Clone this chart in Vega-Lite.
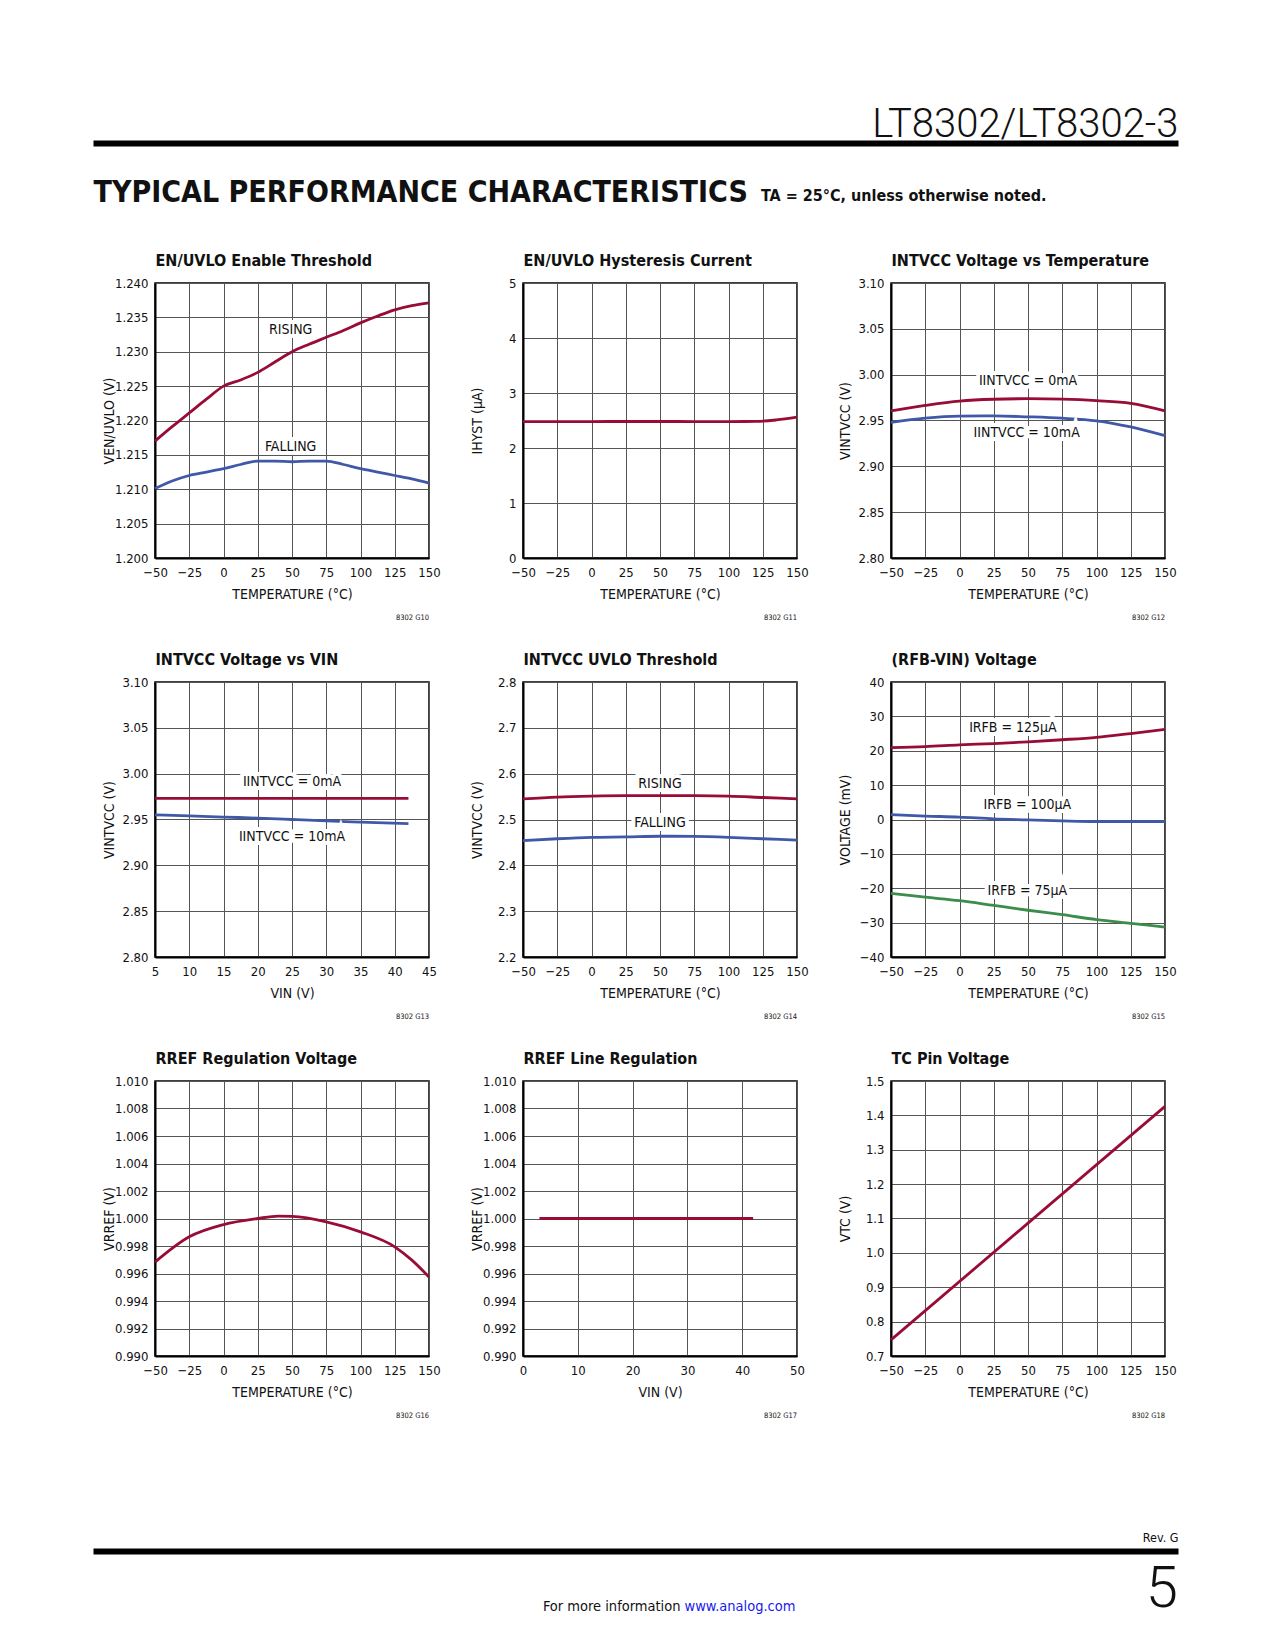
{
  "$schema": "https://vega.github.io/schema/vega-lite/v6.json",
  "background": "white",
  "padding": {"left": 93, "top": 104, "right": 5, "bottom": 5},
  "config": {
    "font": "DejaVu Sans Condensed, DejaVu Sans, sans-serif",
    "view": {"stroke": "black", "strokeWidth": 1.5},
    "axis": {
      "domainColor": "black", "domainWidth": 2,
      "gridColor": "#555555", "gridWidth": 1, "gridOpacity": 1,
      "ticks": false, "tickSize": 0,
      "labelFont": "DejaVu Sans Condensed, DejaVu Sans, sans-serif",
      "labelFontSize": 13, "labelColor": "#111111", "labelPadding": 8,
      "labelOverlap": false, "labelFlush": false, "labelBound": false,
      "titleFont": "DejaVu Sans Condensed, DejaVu Sans, sans-serif",
      "titleFontSize": 14, "titleFontWeight": "normal", "titleColor": "#111111"
    },
    "axisX": {"minExtent": 22, "maxExtent": 22, "titlePadding": 18.5, "titleBaseline": "alphabetic"},
    "axisY": {"minExtent": 33, "maxExtent": 33, "titlePadding": 9, "titleBaseline": "alphabetic", "labelPadding": 7},
    "title": {"font": "DejaVu Sans Condensed, DejaVu Sans, sans-serif", "color": "#111111", "fontWeight": "normal"},
    "text": {"font": "DejaVu Sans Condensed, DejaVu Sans, sans-serif", "fontSize": 14, "color": "#111111"},
    "line": {"strokeWidth": 2.8, "interpolate": "monotone"}
  },
  "spacing": 111,
  "vconcat": [
    {
      "spacing": 44,
      "vconcat": [
        {
          "spacing": 33,
          "vconcat": [
            {
              "width": 1023, "height": 1,
              "view": {"stroke": null},
              "data": {"values": [{"x": 0}]},
              "mark": {"type": "point", "size": 0, "opacity": 0},
              "encoding": {
                "x": {"field": "x", "type": "quantitative", "scale": {"domain": [0, 1], "range": [-62, 1023]},
                  "axis": {"orient": "top", "domain": true, "domainColor": "black", "domainWidth": 6, "domainCap": "butt", "labels": false, "grid": false, "ticks": false,
                    "title": "LT8302/LT8302-3", "titleAnchor": "end", "titleFont": "Roboto", "titleFontWeight": 300, "titleFontSize": 40, "titleBaseline": "alphabetic", "titlePadding": 7, "minExtent": 0, "maxExtent": 0}}
              }
            },
            {
              "width": 1023, "height": 1,
              "view": {"stroke": null},
              "data": {"values": [{"x": 0}]},
              "mark": {"type": "point", "size": 0, "opacity": 0},
              "encoding": {
                "x": {"field": "x", "type": "quantitative", "scale": {"domain": [0, 1], "range": [-62, 1023]},
                  "axis": {"orient": "top", "domain": false, "labels": false, "grid": false, "ticks": false,
                    "title": "TYPICAL PERFORMANCE CHARACTERISTICS", "titleAnchor": "start", "titleFontWeight": "bold", "titleFontSize": 30, "titleBaseline": "alphabetic", "titlePadding": 0, "minExtent": 0, "maxExtent": 0}}
              },
              "title": {"text": "TA = 25°C, unless otherwise noted.", "orient": "bottom", "anchor": "start", "frame": "group", "baseline": "alphabetic", "offset": -6, "dx": 606, "fontSize": 16, "fontWeight": "bold"}
            }
          ]
        },
        {
          "columns": 3,
          "bounds": "flush",
          "spacing": {"row": 124, "column": 94},
          "resolve": {"scale": {"color": "independent"}},
          "concat": [
            {
              "width": 274, "height": 275,
              "title": {"text": "8302 G10", "orient": "bottom", "anchor": "end", "frame": "group", "fontSize": 7.5, "offset": 12},
              "resolve": {"axis": {"x": "independent"}},
              "layer": [
                {
                  "data": {"values": [
                    {"s": "RISING", "x": -50, "y": 1.2170}, {"s": "RISING", "x": -37.5, "y": 1.2191}, {"s": "RISING", "x": -25, "y": 1.2211}, {"s": "RISING", "x": -12.5, "y": 1.2231},
                    {"s": "RISING", "x": 0, "y": 1.2250}, {"s": "RISING", "x": 12.5, "y": 1.2259}, {"s": "RISING", "x": 25, "y": 1.2270}, {"s": "RISING", "x": 37.5, "y": 1.2285},
                    {"s": "RISING", "x": 50, "y": 1.2300}, {"s": "RISING", "x": 62.5, "y": 1.2311}, {"s": "RISING", "x": 75, "y": 1.2321}, {"s": "RISING", "x": 87.5, "y": 1.2331},
                    {"s": "RISING", "x": 100, "y": 1.2342}, {"s": "RISING", "x": 112.5, "y": 1.2352}, {"s": "RISING", "x": 125, "y": 1.2361}, {"s": "RISING", "x": 137.5, "y": 1.2367},
                    {"s": "RISING", "x": 150, "y": 1.2371},
                    {"s": "FALLING", "x": -50, "y": 1.2101}, {"s": "FALLING", "x": -37.5, "y": 1.2112}, {"s": "FALLING", "x": -25, "y": 1.2120}, {"s": "FALLING", "x": -12.5, "y": 1.2125},
                    {"s": "FALLING", "x": 0, "y": 1.2130}, {"s": "FALLING", "x": 12.5, "y": 1.2136}, {"s": "FALLING", "x": 25, "y": 1.2141}, {"s": "FALLING", "x": 37.5, "y": 1.2141},
                    {"s": "FALLING", "x": 50, "y": 1.2140}, {"s": "FALLING", "x": 62.5, "y": 1.2141}, {"s": "FALLING", "x": 75, "y": 1.2141}, {"s": "FALLING", "x": 87.5, "y": 1.2136},
                    {"s": "FALLING", "x": 100, "y": 1.2130}, {"s": "FALLING", "x": 112.5, "y": 1.2125}, {"s": "FALLING", "x": 125, "y": 1.2120}, {"s": "FALLING", "x": 137.5, "y": 1.2115},
                    {"s": "FALLING", "x": 150, "y": 1.2109}
                  ]},
                  "mark": {"type": "line"},
                  "encoding": {
                    "x": {"field": "x", "type": "quantitative", "scale": {"domain": [-50, 150], "nice": false, "zero": false},
                      "axis": {"orient": "bottom", "values": [-50, -25, 0, 25, 50, 75, 100, 125, 150], "title": "TEMPERATURE (°C)", "labelOverlap": false}},
                    "y": {"field": "y", "type": "quantitative", "scale": {"domain": [1.2, 1.24], "nice": false, "zero": false},
                      "axis": {"values": [1.2, 1.205, 1.21, 1.215, 1.22, 1.225, 1.23, 1.235, 1.24], "format": ".3f", "title": "VEN/UVLO (V)", "labelOverlap": false}},
                    "color": {"field": "s", "type": "nominal", "scale": {"domain": ["RISING", "FALLING"], "range": ["#980C36", "#3F59A8"]}, "legend": null}
                  }
                },
                {
                  "data": {"values": [{"x": 49, "y": 1.2331, "t": "RISING"}, {"x": 49, "y": 1.2161, "t": "FALLING"}]},
                  "mark": {"type": "text", "stroke": "white", "strokeWidth": 8, "fill": "white"},
                  "encoding": {
                    "x": {"field": "x", "type": "quantitative", "scale": {"domain": [-50, 150], "nice": false, "zero": false}, "axis": null},
                    "y": {"field": "y", "type": "quantitative", "scale": {"domain": [1.2, 1.24], "nice": false, "zero": false},
                      "axis": {"values": [1.2, 1.205, 1.21, 1.215, 1.22, 1.225, 1.23, 1.235, 1.24], "format": ".3f", "title": "VEN/UVLO (V)", "labelOverlap": false}},
                    "text": {"field": "t"}
                  }
                },
                {
                  "data": {"values": [{"x": 49, "y": 1.2331, "t": "RISING"}, {"x": 49, "y": 1.2161, "t": "FALLING"}]},
                  "mark": {"type": "text"},
                  "encoding": {
                    "x": {"field": "x", "type": "quantitative", "scale": {"domain": [-50, 150], "nice": false, "zero": false}, "axis": null},
                    "y": {"field": "y", "type": "quantitative", "scale": {"domain": [1.2, 1.24], "nice": false, "zero": false},
                      "axis": {"values": [1.2, 1.205, 1.21, 1.215, 1.22, 1.225, 1.23, 1.235, 1.24], "format": ".3f", "title": "VEN/UVLO (V)", "labelOverlap": false}},
                    "text": {"field": "t"}
                  }
                },
                {
                  "data": {"values": [{"x": -50}]},
                  "mark": {"type": "point", "size": 0, "opacity": 0},
                  "encoding": {
                    "x": {"field": "x", "type": "quantitative", "scale": {"domain": [-50, 150], "nice": false, "zero": false},
                      "axis": {"orient": "top", "title": "EN/UVLO Enable Threshold", "titleAnchor": "start", "titleFontSize": 16, "titleFontWeight": "bold", "titleBaseline": "alphabetic", "titlePadding": 18, "labels": false, "domain": false, "grid": false, "ticks": false, "minExtent": 0, "maxExtent": 0}}
                  }
                }
              ]
            },
            {
              "width": 274, "height": 275,
              "title": {"text": "8302 G11", "orient": "bottom", "anchor": "end", "frame": "group", "fontSize": 7.5, "offset": 12},
              "resolve": {"axis": {"x": "independent"}},
              "layer": [
                {
                  "data": {"values": [
                    {"x": -50, "y": 2.48}, {"x": -25, "y": 2.48}, {"x": 0, "y": 2.481}, {"x": 25, "y": 2.482}, {"x": 50, "y": 2.482},
                    {"x": 75, "y": 2.481}, {"x": 100, "y": 2.481}, {"x": 120, "y": 2.483}, {"x": 135, "y": 2.51}, {"x": 150, "y": 2.56}
                  ]},
                  "mark": {"type": "line", "color": "#980C36"},
                  "encoding": {
                    "x": {"field": "x", "type": "quantitative", "scale": {"domain": [-50, 150], "nice": false, "zero": false},
                      "axis": {"orient": "bottom", "values": [-50, -25, 0, 25, 50, 75, 100, 125, 150], "title": "TEMPERATURE (°C)", "labelOverlap": false}},
                    "y": {"field": "y", "type": "quantitative", "scale": {"domain": [0, 5], "nice": false},
                      "axis": {"values": [0, 1, 2, 3, 4, 5], "format": "d", "title": "IHYST (µA)", "labelOverlap": false}}
                  }
                },
                {
                  "data": {"values": [{"x": -50}]},
                  "mark": {"type": "point", "size": 0, "opacity": 0},
                  "encoding": {
                    "x": {"field": "x", "type": "quantitative", "scale": {"domain": [-50, 150], "nice": false, "zero": false},
                      "axis": {"orient": "top", "title": "EN/UVLO Hysteresis Current", "titleAnchor": "start", "titleFontSize": 16, "titleFontWeight": "bold", "titleBaseline": "alphabetic", "titlePadding": 18, "labels": false, "domain": false, "grid": false, "ticks": false, "minExtent": 0, "maxExtent": 0}}
                  }
                }
              ]
            },
            {
              "width": 274, "height": 275,
              "title": {"text": "8302 G12", "orient": "bottom", "anchor": "end", "frame": "group", "fontSize": 7.5, "offset": 12},
              "resolve": {"axis": {"x": "independent"}},
              "layer": [
                {
                  "data": {"values": [
                    {"s": "0mA", "x": -50, "y": 2.9606}, {"s": "0mA", "x": -25, "y": 2.9665}, {"s": "0mA", "x": 0, "y": 2.9712}, {"s": "0mA", "x": 25, "y": 2.9732},
                    {"s": "0mA", "x": 50, "y": 2.9738}, {"s": "0mA", "x": 75, "y": 2.9733}, {"s": "0mA", "x": 100, "y": 2.9717}, {"s": "0mA", "x": 125, "y": 2.9688},
                    {"s": "0mA", "x": 150, "y": 2.9606},
                    {"s": "10mA", "x": -50, "y": 2.9481}, {"s": "10mA", "x": -25, "y": 2.9525}, {"s": "10mA", "x": 0, "y": 2.9547}, {"s": "10mA", "x": 25, "y": 2.9550},
                    {"s": "10mA", "x": 50, "y": 2.9540}, {"s": "10mA", "x": 75, "y": 2.9525}, {"s": "10mA", "x": 100, "y": 2.9497}, {"s": "10mA", "x": 125, "y": 2.9430},
                    {"s": "10mA", "x": 150, "y": 2.9334}
                  ]},
                  "mark": {"type": "line"},
                  "encoding": {
                    "x": {"field": "x", "type": "quantitative", "scale": {"domain": [-50, 150], "nice": false, "zero": false},
                      "axis": {"orient": "bottom", "values": [-50, -25, 0, 25, 50, 75, 100, 125, 150], "title": "TEMPERATURE (°C)", "labelOverlap": false}},
                    "y": {"field": "y", "type": "quantitative", "scale": {"domain": [2.8, 3.1], "nice": false, "zero": false},
                      "axis": {"values": [2.8, 2.85, 2.9, 2.95, 3.0, 3.05, 3.1], "format": ".2f", "title": "VINTVCC (V)", "labelOverlap": false}},
                    "color": {"field": "s", "type": "nominal", "scale": {"domain": ["0mA", "10mA"], "range": ["#980C36", "#3F59A8"]}, "legend": null}
                  }
                },
                {
                  "data": {"values": [{"x": 50, "y": 2.9926, "t": "IINTVCC = 0mA"}, {"x": 49, "y": 2.9363, "t": "IINTVCC = 10mA"}]},
                  "mark": {"type": "text", "stroke": "white", "strokeWidth": 8, "fill": "white"},
                  "encoding": {
                    "x": {"field": "x", "type": "quantitative", "scale": {"domain": [-50, 150], "nice": false, "zero": false}, "axis": null},
                    "y": {"field": "y", "type": "quantitative", "scale": {"domain": [2.8, 3.1], "nice": false, "zero": false},
                      "axis": {"values": [2.8, 2.85, 2.9, 2.95, 3.0, 3.05, 3.1], "format": ".2f", "title": "VINTVCC (V)", "labelOverlap": false}},
                    "text": {"field": "t"}
                  }
                },
                {
                  "data": {"values": [{"x": 50, "y": 2.9926, "t": "IINTVCC = 0mA"}, {"x": 49, "y": 2.9363, "t": "IINTVCC = 10mA"}]},
                  "mark": {"type": "text"},
                  "encoding": {
                    "x": {"field": "x", "type": "quantitative", "scale": {"domain": [-50, 150], "nice": false, "zero": false}, "axis": null},
                    "y": {"field": "y", "type": "quantitative", "scale": {"domain": [2.8, 3.1], "nice": false, "zero": false},
                      "axis": {"values": [2.8, 2.85, 2.9, 2.95, 3.0, 3.05, 3.1], "format": ".2f", "title": "VINTVCC (V)", "labelOverlap": false}},
                    "text": {"field": "t"}
                  }
                },
                {
                  "data": {"values": [{"x": -50}]},
                  "mark": {"type": "point", "size": 0, "opacity": 0},
                  "encoding": {
                    "x": {"field": "x", "type": "quantitative", "scale": {"domain": [-50, 150], "nice": false, "zero": false},
                      "axis": {"orient": "top", "title": "INTVCC Voltage vs Temperature", "titleAnchor": "start", "titleFontSize": 16, "titleFontWeight": "bold", "titleBaseline": "alphabetic", "titlePadding": 18, "labels": false, "domain": false, "grid": false, "ticks": false, "minExtent": 0, "maxExtent": 0}}
                  }
                }
              ]
            },
            {
              "width": 274, "height": 275,
              "title": {"text": "8302 G13", "orient": "bottom", "anchor": "end", "frame": "group", "fontSize": 7.5, "offset": 12},
              "resolve": {"axis": {"x": "independent"}},
              "layer": [
                {
                  "data": {"values": [
                    {"s": "0mA", "x": 5, "y": 2.973}, {"s": "0mA", "x": 42, "y": 2.973},
                    {"s": "10mA", "x": 5, "y": 2.9551}, {"s": "10mA", "x": 10, "y": 2.9540}, {"s": "10mA", "x": 15, "y": 2.9527}, {"s": "10mA", "x": 20, "y": 2.9515},
                    {"s": "10mA", "x": 25, "y": 2.9500}, {"s": "10mA", "x": 30, "y": 2.9485}, {"s": "10mA", "x": 35, "y": 2.9472}, {"s": "10mA", "x": 42, "y": 2.9456}
                  ]},
                  "mark": {"type": "line"},
                  "encoding": {
                    "x": {"field": "x", "type": "quantitative", "scale": {"domain": [5, 45], "nice": false, "zero": false},
                      "axis": {"orient": "bottom", "values": [5, 10, 15, 20, 25, 30, 35, 40, 45], "title": "VIN (V)", "labelOverlap": false}},
                    "y": {"field": "y", "type": "quantitative", "scale": {"domain": [2.8, 3.1], "nice": false, "zero": false},
                      "axis": {"values": [2.8, 2.85, 2.9, 2.95, 3.0, 3.05, 3.1], "format": ".2f", "title": "VINTVCC (V)", "labelOverlap": false}},
                    "color": {"field": "s", "type": "nominal", "scale": {"domain": ["0mA", "10mA"], "range": ["#980C36", "#3F59A8"]}, "legend": null}
                  }
                },
                {
                  "data": {"values": [{"x": 25, "y": 2.991, "t": "IINTVCC = 0mA"}, {"x": 25, "y": 2.931, "t": "IINTVCC = 10mA"}]},
                  "mark": {"type": "text", "stroke": "white", "strokeWidth": 8, "fill": "white"},
                  "encoding": {
                    "x": {"field": "x", "type": "quantitative", "scale": {"domain": [5, 45], "nice": false, "zero": false}, "axis": null},
                    "y": {"field": "y", "type": "quantitative", "scale": {"domain": [2.8, 3.1], "nice": false, "zero": false},
                      "axis": {"values": [2.8, 2.85, 2.9, 2.95, 3.0, 3.05, 3.1], "format": ".2f", "title": "VINTVCC (V)", "labelOverlap": false}},
                    "text": {"field": "t"}
                  }
                },
                {
                  "data": {"values": [{"x": 25, "y": 2.991, "t": "IINTVCC = 0mA"}, {"x": 25, "y": 2.931, "t": "IINTVCC = 10mA"}]},
                  "mark": {"type": "text"},
                  "encoding": {
                    "x": {"field": "x", "type": "quantitative", "scale": {"domain": [5, 45], "nice": false, "zero": false}, "axis": null},
                    "y": {"field": "y", "type": "quantitative", "scale": {"domain": [2.8, 3.1], "nice": false, "zero": false},
                      "axis": {"values": [2.8, 2.85, 2.9, 2.95, 3.0, 3.05, 3.1], "format": ".2f", "title": "VINTVCC (V)", "labelOverlap": false}},
                    "text": {"field": "t"}
                  }
                },
                {
                  "data": {"values": [{"x": 5}]},
                  "mark": {"type": "point", "size": 0, "opacity": 0},
                  "encoding": {
                    "x": {"field": "x", "type": "quantitative", "scale": {"domain": [5, 45], "nice": false, "zero": false},
                      "axis": {"orient": "top", "title": "INTVCC Voltage vs VIN", "titleAnchor": "start", "titleFontSize": 16, "titleFontWeight": "bold", "titleBaseline": "alphabetic", "titlePadding": 18, "labels": false, "domain": false, "grid": false, "ticks": false, "minExtent": 0, "maxExtent": 0}}
                  }
                }
              ]
            },
            {
              "width": 274, "height": 275,
              "title": {"text": "8302 G14", "orient": "bottom", "anchor": "end", "frame": "group", "fontSize": 7.5, "offset": 12},
              "resolve": {"axis": {"x": "independent"}},
              "layer": [
                {
                  "data": {"values": [
                    {"s": "RISING", "x": -50, "y": 2.545}, {"s": "RISING", "x": -25, "y": 2.549}, {"s": "RISING", "x": 0, "y": 2.551}, {"s": "RISING", "x": 25, "y": 2.552},
                    {"s": "RISING", "x": 50, "y": 2.552}, {"s": "RISING", "x": 75, "y": 2.552}, {"s": "RISING", "x": 100, "y": 2.551}, {"s": "RISING", "x": 125, "y": 2.548},
                    {"s": "RISING", "x": 150, "y": 2.545},
                    {"s": "FALLING", "x": -50, "y": 2.454}, {"s": "FALLING", "x": -25, "y": 2.458}, {"s": "FALLING", "x": 0, "y": 2.461}, {"s": "FALLING", "x": 25, "y": 2.462},
                    {"s": "FALLING", "x": 50, "y": 2.4635}, {"s": "FALLING", "x": 75, "y": 2.463}, {"s": "FALLING", "x": 100, "y": 2.461}, {"s": "FALLING", "x": 125, "y": 2.458},
                    {"s": "FALLING", "x": 150, "y": 2.455}
                  ]},
                  "mark": {"type": "line"},
                  "encoding": {
                    "x": {"field": "x", "type": "quantitative", "scale": {"domain": [-50, 150], "nice": false, "zero": false},
                      "axis": {"orient": "bottom", "values": [-50, -25, 0, 25, 50, 75, 100, 125, 150], "title": "TEMPERATURE (°C)", "labelOverlap": false}},
                    "y": {"field": "y", "type": "quantitative", "scale": {"domain": [2.2, 2.8], "nice": false, "zero": false},
                      "axis": {"values": [2.2, 2.3, 2.4, 2.5, 2.6, 2.7, 2.8], "format": ".1f", "title": "VINTVCC (V)", "labelOverlap": false}},
                    "color": {"field": "s", "type": "nominal", "scale": {"domain": ["RISING", "FALLING"], "range": ["#980C36", "#3F59A8"]}, "legend": null}
                  }
                },
                {
                  "data": {"values": [{"x": 50, "y": 2.578, "t": "RISING"}, {"x": 50, "y": 2.4934, "t": "FALLING"}]},
                  "mark": {"type": "text", "stroke": "white", "strokeWidth": 8, "fill": "white"},
                  "encoding": {
                    "x": {"field": "x", "type": "quantitative", "scale": {"domain": [-50, 150], "nice": false, "zero": false}, "axis": null},
                    "y": {"field": "y", "type": "quantitative", "scale": {"domain": [2.2, 2.8], "nice": false, "zero": false},
                      "axis": {"values": [2.2, 2.3, 2.4, 2.5, 2.6, 2.7, 2.8], "format": ".1f", "title": "VINTVCC (V)", "labelOverlap": false}},
                    "text": {"field": "t"}
                  }
                },
                {
                  "data": {"values": [{"x": 50, "y": 2.578, "t": "RISING"}, {"x": 50, "y": 2.4934, "t": "FALLING"}]},
                  "mark": {"type": "text"},
                  "encoding": {
                    "x": {"field": "x", "type": "quantitative", "scale": {"domain": [-50, 150], "nice": false, "zero": false}, "axis": null},
                    "y": {"field": "y", "type": "quantitative", "scale": {"domain": [2.2, 2.8], "nice": false, "zero": false},
                      "axis": {"values": [2.2, 2.3, 2.4, 2.5, 2.6, 2.7, 2.8], "format": ".1f", "title": "VINTVCC (V)", "labelOverlap": false}},
                    "text": {"field": "t"}
                  }
                },
                {
                  "data": {"values": [{"x": -50}]},
                  "mark": {"type": "point", "size": 0, "opacity": 0},
                  "encoding": {
                    "x": {"field": "x", "type": "quantitative", "scale": {"domain": [-50, 150], "nice": false, "zero": false},
                      "axis": {"orient": "top", "title": "INTVCC UVLO Threshold", "titleAnchor": "start", "titleFontSize": 16, "titleFontWeight": "bold", "titleBaseline": "alphabetic", "titlePadding": 18, "labels": false, "domain": false, "grid": false, "ticks": false, "minExtent": 0, "maxExtent": 0}}
                  }
                }
              ]
            },
            {
              "width": 274, "height": 275,
              "title": {"text": "8302 G15", "orient": "bottom", "anchor": "end", "frame": "group", "fontSize": 7.5, "offset": 12},
              "resolve": {"axis": {"x": "independent"}},
              "layer": [
                {
                  "data": {"values": [
                    {"s": "r125", "x": -50, "y": 20.9}, {"s": "r125", "x": -25, "y": 21.2}, {"s": "r125", "x": 0, "y": 21.7}, {"s": "r125", "x": 25, "y": 22.1},
                    {"s": "r125", "x": 50, "y": 22.6}, {"s": "r125", "x": 75, "y": 23.2}, {"s": "r125", "x": 100, "y": 23.9}, {"s": "r125", "x": 125, "y": 25.0},
                    {"s": "r125", "x": 150, "y": 26.2},
                    {"s": "r100", "x": -50, "y": 1.4}, {"s": "r100", "x": -25, "y": 1.0}, {"s": "r100", "x": 0, "y": 0.7}, {"s": "r100", "x": 25, "y": 0.2},
                    {"s": "r100", "x": 50, "y": -0.1}, {"s": "r100", "x": 75, "y": -0.4}, {"s": "r100", "x": 100, "y": -0.6}, {"s": "r100", "x": 125, "y": -0.6},
                    {"s": "r100", "x": 150, "y": -0.6},
                    {"s": "r75", "x": -50, "y": -21.5}, {"s": "r75", "x": -25, "y": -22.6}, {"s": "r75", "x": 0, "y": -23.6}, {"s": "r75", "x": 25, "y": -25.0},
                    {"s": "r75", "x": 50, "y": -26.4}, {"s": "r75", "x": 75, "y": -27.7}, {"s": "r75", "x": 100, "y": -29.1}, {"s": "r75", "x": 125, "y": -30.2},
                    {"s": "r75", "x": 150, "y": -31.3}
                  ]},
                  "mark": {"type": "line"},
                  "encoding": {
                    "x": {"field": "x", "type": "quantitative", "scale": {"domain": [-50, 150], "nice": false, "zero": false},
                      "axis": {"orient": "bottom", "values": [-50, -25, 0, 25, 50, 75, 100, 125, 150], "title": "TEMPERATURE (°C)", "labelOverlap": false}},
                    "y": {"field": "y", "type": "quantitative", "scale": {"domain": [-40, 40], "nice": false, "zero": false},
                      "axis": {"values": [-40, -30, -20, -10, 0, 10, 20, 30, 40], "format": "d", "title": "VOLTAGE (mV)", "labelOverlap": false}},
                    "color": {"field": "s", "type": "nominal", "scale": {"domain": ["r125", "r100", "r75"], "range": ["#980C36", "#3F59A8", "#3C8C4C"]}, "legend": null}
                  }
                },
                {
                  "data": {"values": [{"x": 39, "y": 26.7, "t": "IRFB = 125µA"}, {"x": 49.5, "y": 4.1, "t": "IRFB = 100µA"}, {"x": 49.5, "y": -20.8, "t": "IRFB = 75µA"}]},
                  "mark": {"type": "text", "stroke": "white", "strokeWidth": 8, "fill": "white"},
                  "encoding": {
                    "x": {"field": "x", "type": "quantitative", "scale": {"domain": [-50, 150], "nice": false, "zero": false}, "axis": null},
                    "y": {"field": "y", "type": "quantitative", "scale": {"domain": [-40, 40], "nice": false, "zero": false},
                      "axis": {"values": [-40, -30, -20, -10, 0, 10, 20, 30, 40], "format": "d", "title": "VOLTAGE (mV)", "labelOverlap": false}},
                    "text": {"field": "t"}
                  }
                },
                {
                  "data": {"values": [{"x": 39, "y": 26.7, "t": "IRFB = 125µA"}, {"x": 49.5, "y": 4.1, "t": "IRFB = 100µA"}, {"x": 49.5, "y": -20.8, "t": "IRFB = 75µA"}]},
                  "mark": {"type": "text"},
                  "encoding": {
                    "x": {"field": "x", "type": "quantitative", "scale": {"domain": [-50, 150], "nice": false, "zero": false}, "axis": null},
                    "y": {"field": "y", "type": "quantitative", "scale": {"domain": [-40, 40], "nice": false, "zero": false},
                      "axis": {"values": [-40, -30, -20, -10, 0, 10, 20, 30, 40], "format": "d", "title": "VOLTAGE (mV)", "labelOverlap": false}},
                    "text": {"field": "t"}
                  }
                },
                {
                  "data": {"values": [{"x": -50}]},
                  "mark": {"type": "point", "size": 0, "opacity": 0},
                  "encoding": {
                    "x": {"field": "x", "type": "quantitative", "scale": {"domain": [-50, 150], "nice": false, "zero": false},
                      "axis": {"orient": "top", "title": "(RFB-VIN) Voltage", "titleAnchor": "start", "titleFontSize": 16, "titleFontWeight": "bold", "titleBaseline": "alphabetic", "titlePadding": 18, "labels": false, "domain": false, "grid": false, "ticks": false, "minExtent": 0, "maxExtent": 0}}
                  }
                }
              ]
            },
            {
              "width": 274, "height": 275,
              "title": {"text": "8302 G16", "orient": "bottom", "anchor": "end", "frame": "group", "fontSize": 7.5, "offset": 12},
              "resolve": {"axis": {"x": "independent"}},
              "layer": [
                {
                  "data": {"values": [
                    {"x": -50, "y": 0.99683}, {"x": -25, "y": 0.99867}, {"x": 0, "y": 0.99956}, {"x": 25, "y": 1.0},
                    {"x": 40, "y": 1.00017}, {"x": 50, "y": 1.00015}, {"x": 75, "y": 0.99976}, {"x": 100, "y": 0.99903},
                    {"x": 125, "y": 0.99794}, {"x": 137.5, "y": 0.99697}, {"x": 150, "y": 0.99574}
                  ]},
                  "mark": {"type": "line", "color": "#980C36"},
                  "encoding": {
                    "x": {"field": "x", "type": "quantitative", "scale": {"domain": [-50, 150], "nice": false, "zero": false},
                      "axis": {"orient": "bottom", "values": [-50, -25, 0, 25, 50, 75, 100, 125, 150], "title": "TEMPERATURE (°C)", "labelOverlap": false}},
                    "y": {"field": "y", "type": "quantitative", "scale": {"domain": [0.99, 1.01], "nice": false, "zero": false},
                      "axis": {"values": [0.99, 0.992, 0.994, 0.996, 0.998, 1.0, 1.002, 1.004, 1.006, 1.008, 1.01], "format": ".3f", "title": "VRREF (V)", "labelOverlap": false}}
                  }
                },
                {
                  "data": {"values": [{"x": -50}]},
                  "mark": {"type": "point", "size": 0, "opacity": 0},
                  "encoding": {
                    "x": {"field": "x", "type": "quantitative", "scale": {"domain": [-50, 150], "nice": false, "zero": false},
                      "axis": {"orient": "top", "title": "RREF Regulation Voltage", "titleAnchor": "start", "titleFontSize": 16, "titleFontWeight": "bold", "titleBaseline": "alphabetic", "titlePadding": 18, "labels": false, "domain": false, "grid": false, "ticks": false, "minExtent": 0, "maxExtent": 0}}
                  }
                }
              ]
            },
            {
              "width": 274, "height": 275,
              "title": {"text": "8302 G17", "orient": "bottom", "anchor": "end", "frame": "group", "fontSize": 7.5, "offset": 12},
              "resolve": {"axis": {"x": "independent"}},
              "layer": [
                {
                  "data": {"values": [{"x": 3, "y": 1.0}, {"x": 42, "y": 1.0}]},
                  "mark": {"type": "line", "color": "#980C36"},
                  "encoding": {
                    "x": {"field": "x", "type": "quantitative", "scale": {"domain": [0, 50], "nice": false, "zero": false},
                      "axis": {"orient": "bottom", "values": [0, 10, 20, 30, 40, 50], "title": "VIN (V)", "labelOverlap": false}},
                    "y": {"field": "y", "type": "quantitative", "scale": {"domain": [0.99, 1.01], "nice": false, "zero": false},
                      "axis": {"values": [0.99, 0.992, 0.994, 0.996, 0.998, 1.0, 1.002, 1.004, 1.006, 1.008, 1.01], "format": ".3f", "title": "VRREF (V)", "labelOverlap": false}}
                  }
                },
                {
                  "data": {"values": [{"x": 0}]},
                  "mark": {"type": "point", "size": 0, "opacity": 0},
                  "encoding": {
                    "x": {"field": "x", "type": "quantitative", "scale": {"domain": [0, 50], "nice": false, "zero": false},
                      "axis": {"orient": "top", "title": "RREF Line Regulation", "titleAnchor": "start", "titleFontSize": 16, "titleFontWeight": "bold", "titleBaseline": "alphabetic", "titlePadding": 18, "labels": false, "domain": false, "grid": false, "ticks": false, "minExtent": 0, "maxExtent": 0}}
                  }
                }
              ]
            },
            {
              "width": 274, "height": 275,
              "title": {"text": "8302 G18", "orient": "bottom", "anchor": "end", "frame": "group", "fontSize": 7.5, "offset": 12},
              "resolve": {"axis": {"x": "independent"}},
              "layer": [
                {
                  "data": {"values": [{"x": -50, "y": 0.747}, {"x": 150, "y": 1.426}]},
                  "mark": {"type": "line", "color": "#980C36"},
                  "encoding": {
                    "x": {"field": "x", "type": "quantitative", "scale": {"domain": [-50, 150], "nice": false, "zero": false},
                      "axis": {"orient": "bottom", "values": [-50, -25, 0, 25, 50, 75, 100, 125, 150], "title": "TEMPERATURE (°C)", "labelOverlap": false}},
                    "y": {"field": "y", "type": "quantitative", "scale": {"domain": [0.7, 1.5], "nice": false, "zero": false},
                      "axis": {"values": [0.7, 0.8, 0.9, 1.0, 1.1, 1.2, 1.3, 1.4, 1.5], "format": ".1f", "title": "VTC (V)", "labelOverlap": false}}
                  }
                },
                {
                  "data": {"values": [{"x": -50}]},
                  "mark": {"type": "point", "size": 0, "opacity": 0},
                  "encoding": {
                    "x": {"field": "x", "type": "quantitative", "scale": {"domain": [-50, 150], "nice": false, "zero": false},
                      "axis": {"orient": "top", "title": "TC Pin Voltage", "titleAnchor": "start", "titleFontSize": 16, "titleFontWeight": "bold", "titleBaseline": "alphabetic", "titlePadding": 18, "labels": false, "domain": false, "grid": false, "ticks": false, "minExtent": 0, "maxExtent": 0}}
                  }
                }
              ]
            }
          ]
        }
      ]
    },
    {
      "title": {"text": "www.analog.com", "orient": "bottom", "anchor": "middle", "align": "left", "dx": 18, "baseline": "alphabetic", "offset": -8, "fontSize": 14.5, "color": "#1a1aee"},
      "vconcat": [
        {
          "title": {"text": "For more information", "orient": "bottom", "anchor": "middle", "align": "right", "dx": 14, "baseline": "alphabetic", "offset": -8, "fontSize": 14.5},
          "vconcat": [
            {
              "width": 1023, "height": 1,
              "view": {"stroke": null},
              "data": {"values": [{"x": 0}]},
              "mark": {"type": "point", "size": 0, "opacity": 0},
              "encoding": {
                "x": {"field": "x", "type": "quantitative", "scale": {"domain": [0, 1], "range": [-62, 1023]},
                  "axis": {"orient": "top", "domain": true, "domainColor": "black", "domainWidth": 6, "domainCap": "butt", "labels": false, "grid": false, "ticks": false,
                    "title": "Rev. G", "titleAnchor": "end", "titleFontSize": 12.5, "titleBaseline": "alphabetic", "titlePadding": 10, "minExtent": 0, "maxExtent": 0}}
              },
              "title": {"text": "5", "orient": "bottom", "anchor": "end", "frame": "group", "font": "Roboto", "fontWeight": 300, "fontSize": 58, "baseline": "alphabetic", "offset": 55}
            }
          ]
        }
      ]
    }
  ]
}
